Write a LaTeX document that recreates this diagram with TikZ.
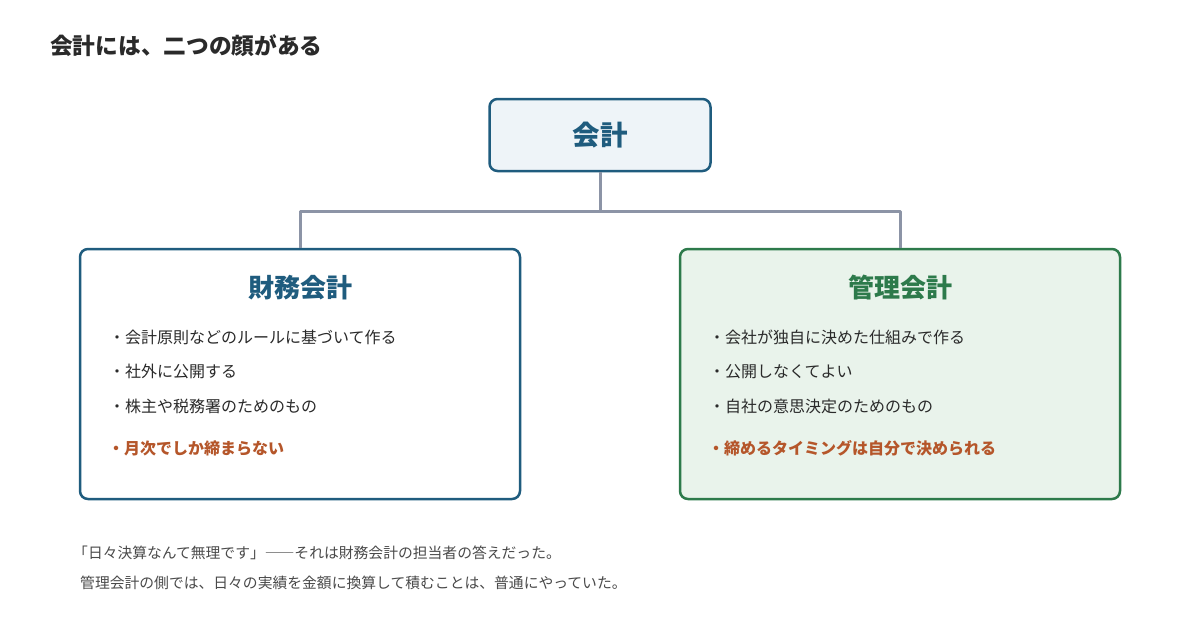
\documentclass[tikz,border=0pt]{standalone}
\usepackage{fontspec}
\setmainfont{Noto Sans CJK JP}
\definecolor{kblue}{HTML}{1F5C7E}
\definecolor{kgreen}{HTML}{2D7A4B}
\definecolor{kgreenbg}{HTML}{E9F3EB}
\definecolor{kbluebg}{HTML}{EEF4F8}
\definecolor{korange}{HTML}{B5562A}
\definecolor{kgray}{HTML}{8C94A6}
\definecolor{ktext}{HTML}{2A2A2A}
\begin{document}
\begin{tikzpicture}[x=1pt,y=-1pt,line join=round,
 box/.style={draw,line width=2.5pt,rounded corners=8pt,inner sep=0pt},
 conn/.style={draw=kgray,line width=3pt},
 item/.style={anchor=base west,inner sep=0pt,text=ktext,font=\fontsize{16}{16}\selectfont},
 hot/.style={item,text=korange,font=\fontsize{16}{16}\selectfont\bfseries},
 head/.style={anchor=base,inner sep=0pt,font=\fontsize{26}{26}\selectfont\bfseries},
 note/.style={anchor=base west,inner sep=0pt,text=ktext!85,font=\fontsize{14.8}{14.8}\selectfont}]
 \useasboundingbox[fill=white](0,0)rectangle(1200,640);
 \node[anchor=base west,inner sep=0pt,text=ktext,font=\fontsize{22.7}{22.7}\selectfont\bfseries](title)at(50,54){会計には、二つの顔がある};
 % boxes
 \node[box,draw=kblue,fill=kbluebg,minimum width=221pt,minimum height=72pt,text=kblue,font=\fontsize{27.5}{27.5}\selectfont\bfseries](top)at(600,135){会計};
 \node[box,draw=kblue,fill=white,minimum width=440pt,minimum height=250pt](fin)at(300,374){};
 \node[box,draw=kgreen,fill=kgreenbg,minimum width=440pt,minimum height=250pt](mgt)at(900,374){};
 \coordinate(mid)at(600,211);
 \draw[conn](top.south)--(mid)(fin.north)|-(mid)-|(mgt.north);
 % headings
 \node[head,text=kblue](finhead)at(300,297){財務会計};
 \node[head,text=kgreen](mgthead)at(900,297){管理会計};
 \foreach \n/\y/\t in{1/343/会計原則などのルールに基づいて作る,2/377/社外に公開する,3/412/株主や税務署のためのもの}
 \node[item](fin\n)at(109,\y){・\t};
 \foreach \n/\y/\t in{1/343/会社が独自に決めた仕組みで作る,2/377/公開しなくてよい,3/412/自社の意思決定のためのもの}
 \node[item](mgt\n)at(709,\y){・\t};
 \node[hot](finhot)at(108,454){・月次でしか締まらない};
 \node[hot](mgthot)at(708,454){・締めるタイミングは自分で決められる};
 % note below
 \node[note](note1)at(73,558.5){「日々決算なんて無理です」――それは財務会計の担当者の答えだった。};
 \node[note](note2)at(80,588.5){管理会計の側では、日々の実績を金額に換算して積むことは、普通にやっていた。};
\end{tikzpicture}
\end{document}
